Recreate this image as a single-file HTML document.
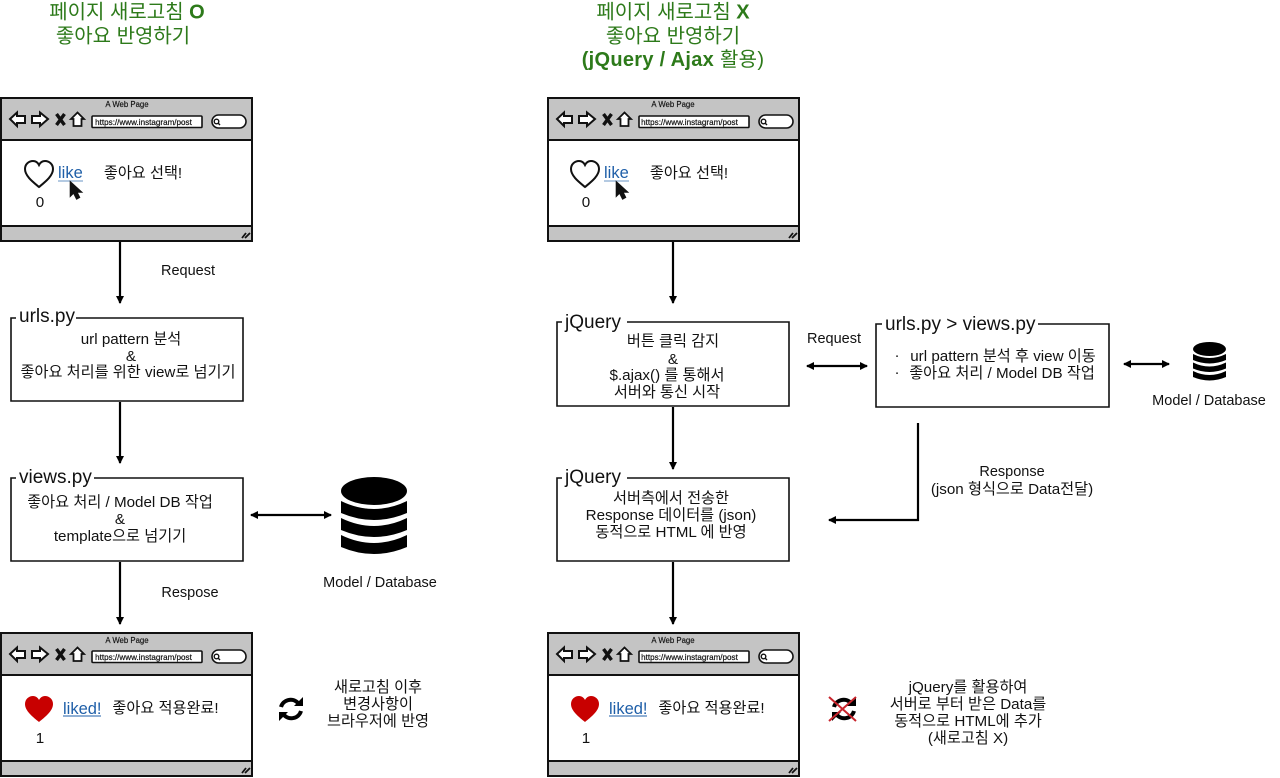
<!DOCTYPE html>
<html><head><meta charset="utf-8">
<style>
html,body{margin:0;padding:0;background:#fff}
svg{display:block}
text{font-family:"Liberation Sans","Noto Sans CJK KR",sans-serif;fill:#111;text-anchor:middle}
.t{font-size:15.2px;transform:translateY(1px)}
.lt{font-size:14.5px}
.g{font-size:20px;fill:#2d7a1a}
.gb{font-size:20px;fill:#2d7a1a;font-weight:bold;letter-spacing:.3px}
.h{font-size:19px;text-anchor:start}
.l{font-size:16.5px;fill:#1f5fa8;text-anchor:start}
.s{font-size:7.8px;stroke:#111;stroke-width:.15}
.u{font-size:8.1px;stroke:#111;stroke-width:.2}
.line{fill:none;stroke:#000;stroke-width:2.2}
.box{fill:none;stroke:#111;stroke-width:1.6}
</style></head><body>
<svg width="1280" height="778" viewBox="0 0 1280 778" xmlns="http://www.w3.org/2000/svg">
<defs>
<g id="chrome">
<rect x="1" y="1" width="251" height="143" fill="#fff" stroke="#111" stroke-width="2"/>
<rect x="1" y="1" width="251" height="42" fill="#c4c4c4" stroke="#111" stroke-width="2"/>
<rect x="1" y="129" width="251" height="15" fill="#c4c4c4" stroke="#111" stroke-width="2"/>
<g transform="translate(0,1)">
<path d="M10 21 L17 14.500 V18 H25 V25 H17 V28Z M48 21 L40 14.500 V18 H32 V25 H40 V28Z" fill="#fff" stroke="#111" stroke-width="2"/>
<path d="M56.500 16 L64.500 27 M64.500 16 L56.500 27" stroke="#111" stroke-width="3.400" fill="none"/>
<path d="M71 21 L77.500 14.500 L84 21 H81.500 V28 H73.500 V21Z" fill="#fff" stroke="#111" stroke-width="1.800"/>
<rect x="92" y="18" width="110" height="11.500" fill="#fff" stroke="#111" stroke-width="1.600" rx="1"/>
<rect x="212" y="17" width="34" height="13" rx="6.500" fill="#fff" stroke="#111" stroke-width="1.600"/>
<circle cx="216.500" cy="23.500" r="2.300" fill="none" stroke="#111" stroke-width="1.400"/>
<path d="M218 25 L220 27" stroke="#111" stroke-width="1.400"/>
</g>
<path d="M242 141 L246 136 M245 141 L250 136" stroke="#111" stroke-width="1.800"/>
</g>
<path id="heart" d="M14 25 C8 20 0 14 0 7 C0 2 4 -1 8 -1 C11 -1 13 1 14 3 C15 1 17 -1 20 -1 C24 -1 28 2 28 7 C28 14 20 20 14 25Z"/>
<path id="cursor" d="M0 0 V16 L3.500 12.500 L6.500 18.500 L10 16.500 L7.500 11.500 L12.500 11.500Z" fill="#111" stroke="#111" stroke-width=".6"/>
<g id="db" fill="#000">
<ellipse cx="33" cy="14" rx="33" ry="14"/>
<path d="M0 24 Q33 40 66 24 V36 Q33 50 0 36Z"/>
<path d="M0 41 Q33 57 66 41 V53 Q33 67 0 53Z"/>
<path d="M0 58 Q33 74 66 58 V70 Q33 84 0 70Z"/>
</g>
<g id="refresh" fill="none" stroke="#000" stroke-width="4">
<path d="M2 10 A10 10 0 0 1 19 6"/>
<path d="M22 14 A10 10 0 0 1 5 18"/>
<path d="M24 0 V9 H15Z M0 24 V15 H9Z" fill="#000" stroke="none"/>
</g>
<marker id="a" markerWidth="10" markerHeight="10" refX="7" refY="5" orient="auto-start-reverse" markerUnits="userSpaceOnUse"><path d="M0 1 L8 5 L0 9Z" fill="#000"/></marker>
</defs>

<!-- Titles -->
<text class="g" x="127" y="18.500">페이지 새로고침 <tspan font-weight="bold">O</tspan></text>
<text class="g" x="123" y="42.500">좋아요 반영하기</text>
<text class="g" x="673" y="18.500">페이지 새로고침 <tspan font-weight="bold">X</tspan></text>
<text class="g" x="673" y="42.500">좋아요 반영하기</text>
<text class="gb" x="673" y="66">(jQuery / Ajax <tspan font-weight="normal">활용)</tspan></text>

<!-- Top left window -->
<use href="#chrome" x="0" y="97"/>
<text class="s" x="127" y="107">A Web Page</text>
<text class="u" x="143.500" y="125">https://www.instagram/post</text>
<use href="#heart" x="25" y="162" fill="#fff" stroke="#111" stroke-width="2"/>
<text class="l" x="58" y="178">like</text>
<path d="M58 181 H83" stroke="#9bb8d8" stroke-width="1.500"/>
<use href="#cursor" x="70" y="181"/>
<text class="t" x="143" y="177">좋아요 선택!</text>
<text class="t" x="40" y="206">0</text>

<!-- Top right window -->
<use href="#chrome" x="547" y="97"/>
<text class="s" x="673" y="107">A Web Page</text>
<text class="u" x="689.500" y="125">https://www.instagram/post</text>
<use href="#heart" x="571" y="162" fill="#fff" stroke="#111" stroke-width="2"/>
<text class="l" x="604" y="178">like</text>
<path d="M604 181 H629" stroke="#9bb8d8" stroke-width="1.500"/>
<use href="#cursor" x="616" y="181"/>
<text class="t" x="689" y="177">좋아요 선택!</text>
<text class="t" x="586" y="206">0</text>

<!-- Bottom left window -->
<use href="#chrome" x="0" y="632"/>
<text class="s" x="127" y="643">A Web Page</text>
<text class="u" x="143.500" y="660">https://www.instagram/post</text>
<use href="#heart" x="25" y="697" fill="#c80000"/>
<text class="l" x="63" y="714">liked!</text>
<path d="M63 716 H101" stroke="#1f5fa8" stroke-width="1"/>
<text class="t" x="165.500" y="712">좋아요 적용완료!</text>
<text class="t" x="40" y="742">1</text>

<!-- Bottom right window -->
<use href="#chrome" x="547" y="632"/>
<text class="s" x="673" y="643">A Web Page</text>
<text class="u" x="689.500" y="660">https://www.instagram/post</text>
<use href="#heart" x="571" y="697" fill="#c80000"/>
<text class="l" x="609" y="714">liked!</text>
<path d="M609 716 H647" stroke="#1f5fa8" stroke-width="1"/>
<text class="t" x="711.500" y="712">좋아요 적용완료!</text>
<text class="t" x="586" y="742">1</text>

<!-- Left boxes -->
<path class="box" d="M76 318 H243 V401 H11 V318 H16"/>
<text class="h" x="19" y="322">urls.py</text>
<text class="t" x="131" y="343">url pattern 분석</text>
<text class="t" x="131" y="360">&amp;</text>
<text class="t" x="128" y="376">좋아요 처리를 위한 view로 넘기기</text>

<path class="box" d="M94 478 H243 V561 H11 V478 H16"/>
<text class="h" x="19" y="483">views.py</text>
<text class="t" x="120" y="506">좋아요 처리 / Model DB 작업</text>
<text class="t" x="120" y="523">&amp;</text>
<text class="t" x="120" y="540">template으로 넘기기</text>

<!-- Left arrows -->
<path class="line" d="M120 242 V303" marker-end="url(#a)"/>
<path class="line" d="M120 402 V463" marker-end="url(#a)"/>
<path class="line" d="M120 562 V624" marker-end="url(#a)"/>
<path class="line" d="M251 515 H331" marker-start="url(#a)" marker-end="url(#a)"/>
<text class="lt" x="188" y="275">Request</text>
<text class="lt" x="190" y="597">Respose</text>
<use href="#db" x="341" y="477"/>
<text class="lt" x="380" y="587">Model / Database</text>

<use href="#refresh" x="279" y="697"/>
<text class="t" x="378" y="691">새로고침 이후</text>
<text class="t" x="378" y="708">변경사항이</text>
<text class="t" x="378" y="725">브라우저에 반영</text>

<!-- Right boxes -->
<path class="box" d="M627 322 H789 V406 H557 V322 H562"/>
<text class="h" x="565" y="328">jQuery</text>
<text class="t" x="673" y="345">버튼 클릭 감지</text>
<text class="t" x="673" y="363">&amp;</text>
<text class="t" x="667" y="379">$.ajax() 를 통해서</text>
<text class="t" x="667" y="396">서버와 통신 시작</text>

<path class="box" d="M1038 324 H1109 V407 H876 V324 H882"/>
<text class="h" x="885" y="330">urls.py &gt; views.py</text>
<text class="t" x="897" y="359">·</text>
<text class="t" x="1003" y="360">url pattern 분석 후 view 이동</text>
<text class="t" x="897" y="376">·</text>
<text class="t" x="1002" y="377">좋아요 처리 / Model DB 작업</text>

<path class="box" d="M627 478 H789 V561 H557 V478 H562"/>
<text class="h" x="565" y="483">jQuery</text>
<text class="t" x="671" y="502">서버측에서 전송한</text>
<text class="t" x="671" y="519">Response 데이터를 (json)</text>
<text class="t" x="671" y="536">동적으로 HTML 에 반영</text>

<!-- Right arrows -->
<path class="line" d="M673 242 V303" marker-end="url(#a)"/>
<path class="line" d="M673 407 V469" marker-end="url(#a)"/>
<path class="line" d="M673 562 V624" marker-end="url(#a)"/>
<path class="line" d="M807 366 H867" marker-start="url(#a)" marker-end="url(#a)"/>
<path class="line" d="M1124 364 H1169" marker-start="url(#a)" marker-end="url(#a)"/>
<path class="line" d="M918 423 V520 H829" marker-end="url(#a)"/>
<text class="lt" x="834" y="343">Request</text>
<text class="lt" x="1012" y="476">Response</text>
<text class="t" x="1012" y="493">(json 형식으로 Data전달)</text>
<use href="#db" transform="translate(1193,342) scale(0.5)"/>
<text class="lt" x="1209" y="405">Model / Database</text>

<use href="#refresh" x="832" y="697"/>
<path d="M829 697 L856 721 M856 697 L829 721" stroke="#c8242c" stroke-width="2" fill="none"/>
<text class="t" x="968" y="691">jQuery를 활용하여</text>
<text class="t" x="968" y="708">서버로 부터 받은 Data를</text>
<text class="t" x="968" y="725">동적으로 HTML에 추가</text>
<text class="t" x="968" y="742">(새로고침 X)</text>
</svg>
</body></html>
